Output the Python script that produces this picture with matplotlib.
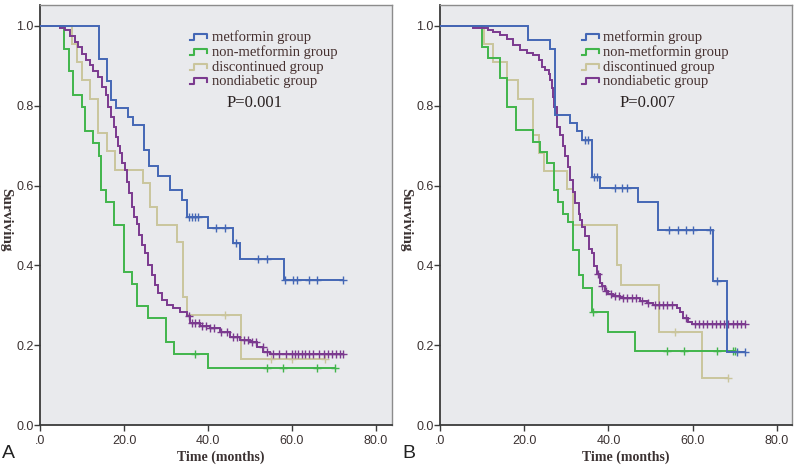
import numpy as np
import matplotlib
matplotlib.use("Agg")
import matplotlib.pyplot as plt
from matplotlib.lines import Line2D

# ---------------- data ----------------
group_names = ["metformin group", "non-metformin group", "discontinued group", "nondiabetic group"]
x_ticks = [0, 20, 40, 60, 80]
x_ticklabels = [".0", "20.0", "40.0", "60.0", "80.0"]
y_ticks = [0.0, 0.2, 0.4, 0.6, 0.8, 1.0]
y_ticklabels = ["0.0", "0.2", "0.4", "0.6", "0.8", "1.0"]
p_values = ["P=0.001", "P=0.007"]
panel_letters = ["A", "B"]

# Panel A
a_met_t = [14.0, 16.0, 16.8, 18.1, 21.0, 22.1, 24.8, 25.9, 28.2, 30.9, 33.7, 34.9, 40.0, 46.0, 47.7, 58.0]
a_met_s = [0.917, 0.861, 0.815, 0.794, 0.773, 0.752, 0.689, 0.650, 0.623, 0.589, 0.564, 0.521, 0.493, 0.457, 0.416, 0.363]
a_met_c = [35.5, 36.2, 37.0, 37.6, 42.0, 44.0, 46.6, 52.0, 54.0, 58.4, 60.2, 61.2, 64.0, 66.0, 72.2]
a_met_end = 72.2

a_non_t = [5.7, 6.9, 7.9, 9.9, 10.7, 12.6, 14.0, 14.6, 15.8, 17.7, 20.0, 21.8, 23.0, 25.8, 29.9, 31.8, 39.9]
a_non_s = [0.943, 0.886, 0.827, 0.796, 0.738, 0.706, 0.674, 0.589, 0.560, 0.501, 0.384, 0.354, 0.297, 0.267, 0.208, 0.178, 0.142]
a_non_c = [36.9, 54.0, 57.9, 66.0, 70.2]
a_non_end = 70.2

a_dis_t = [7.7, 8.7, 9.9, 11.9, 13.9, 15.9, 17.9, 24.6, 26.2, 27.8, 32.6, 34.0, 34.9, 47.8]
a_dis_s = [0.955, 0.910, 0.865, 0.818, 0.733, 0.686, 0.639, 0.606, 0.547, 0.501, 0.459, 0.322, 0.276, 0.165]
a_dis_c = [44.0, 55.0, 60.0, 67.9]
a_dis_end = 67.9

a_nd_t = [4.8, 6.0, 7.1, 8.3, 9.1, 9.9, 11.0, 11.9, 12.7, 13.9, 14.7, 15.7, 16.3, 16.8, 17.5, 18.0,
          18.5, 19.0, 19.5, 20.2, 20.8, 21.3, 21.8, 22.4, 23.0, 23.6, 24.4, 25.0, 25.8, 26.6, 27.4,
          28.2, 29.0, 30.2, 31.7, 33.3, 34.9, 35.7, 38.1, 40.5, 42.9, 45.2, 47.6, 50.0, 51.6, 53.2, 54.8]
a_nd_s = [0.995, 0.990, 0.975, 0.961, 0.948, 0.931, 0.915, 0.902, 0.886, 0.873, 0.848, 0.827, 0.798,
          0.773, 0.748, 0.723, 0.698, 0.681, 0.656, 0.639, 0.610, 0.581, 0.547, 0.522, 0.505, 0.476,
          0.451, 0.430, 0.401, 0.376, 0.351, 0.330, 0.313, 0.301, 0.292, 0.282, 0.272, 0.255, 0.249,
          0.242, 0.232, 0.221, 0.213, 0.209, 0.196, 0.184, 0.177]
a_nd_c = [35.5, 36.3, 37.0, 37.8, 38.5, 39.5, 40.5, 41.5, 43.0, 44.5, 46.0, 47.0, 48.5, 49.5, 50.5,
          51.5, 53.0, 54.0, 55.5, 57.0, 58.5, 60.0, 60.8, 61.5, 62.3, 63.0, 64.0, 65.0, 66.5, 67.5,
          68.5, 69.5, 70.5, 71.5, 72.2]
a_nd_end = 72.2

# Panel B
b_met_t = [21.0, 26.2, 27.2, 30.8, 32.5, 33.8, 36.1, 37.9, 47.1, 51.7, 64.8, 68.1]
b_met_s = [0.964, 0.942, 0.777, 0.757, 0.736, 0.714, 0.622, 0.593, 0.560, 0.489, 0.361, 0.182]
b_met_c = [34.4, 35.2, 36.6, 37.4, 41.5, 43.2, 44.5, 54.5, 56.5, 58.5, 60.0, 64.2, 65.8, 70.5, 72.5]
b_met_end = 72.5

b_non_t = [9.9, 11.5, 14.3, 16.0, 18.1, 22.0, 23.8, 25.4, 27.1, 28.1, 29.3, 30.3, 31.7, 32.9, 33.9, 36.1, 40.0, 46.2]
b_non_s = [0.948, 0.919, 0.869, 0.798, 0.739, 0.710, 0.685, 0.656, 0.589, 0.560, 0.530, 0.509, 0.438, 0.375, 0.344, 0.282, 0.232, 0.186]
b_non_c = [36.3, 53.9, 58.0, 65.9, 69.7, 70.1]
b_non_end = 70.1

b_dis_t = [10.5, 12.5, 16.0, 18.6, 22.0, 23.6, 24.7, 30.1, 31.5, 42.0, 42.9, 51.9, 62.2]
b_dis_s = [0.955, 0.909, 0.864, 0.818, 0.727, 0.682, 0.636, 0.591, 0.500, 0.400, 0.350, 0.233, 0.117]
b_dis_c = [55.9, 68.5]
b_dis_end = 68.5

b_nd_t = [7.9, 11.5, 12.7, 14.3, 15.8, 17.4, 19.0, 20.6, 22.2, 23.4, 24.2, 25.0, 25.8, 26.1, 26.5, 26.9,
          27.1, 27.7, 28.5, 29.3, 29.7, 30.5, 30.9, 31.7, 32.1, 32.9, 33.3, 33.7, 34.5, 35.3, 36.1, 36.6,
          37.2, 37.9, 38.4, 39.2, 40.0, 41.2, 42.8, 47.5, 49.1, 50.7, 56.3, 57.0, 57.8, 59.0, 59.8]
b_nd_s = [0.995, 0.990, 0.985, 0.977, 0.967, 0.952, 0.940, 0.933, 0.927, 0.915, 0.898, 0.890, 0.880,
          0.865, 0.844, 0.823, 0.798, 0.748, 0.727, 0.698, 0.673, 0.647, 0.614, 0.585, 0.556, 0.530,
          0.514, 0.497, 0.473, 0.440, 0.432, 0.398, 0.378, 0.357, 0.348, 0.336, 0.328, 0.323, 0.319,
          0.311, 0.307, 0.300, 0.294, 0.282, 0.269, 0.258, 0.253]
b_nd_c = [37.5, 38.5, 39.5, 40.5, 41.5, 42.5, 43.5, 44.5, 45.5, 46.5, 48.0, 49.5, 51.0, 52.0, 53.0,
          54.0, 55.0, 58.5, 60.5, 61.5, 62.5, 63.5, 64.5, 65.5, 66.5, 67.5, 68.5, 69.5, 70.5, 71.5, 72.5]
b_nd_end = 72.5

# ---------------- style ----------------
colors = ["#4467b5", "#41b54b", "#cac59c", "#7b3a8f"]
bg = "#e9eaed"
txt_dark = "#3b3232"
legend_txt = "#45302f"

W, H = 800, 469
fig = plt.figure(figsize=(8.0, 4.69), dpi=100)
fig.patch.set_facecolor("white")

tick_font = ["Liberation Sans Narrow", "Liberation Sans", "DejaVu Sans"]
serif_font = ["Liberation Serif", "DejaVu Serif"]


def draw_curve(ax, t, s, cens, end, color, z):
    tt = [0.0] + list(t) + [end]
    ss = [1.0] + list(s) + [s[-1]]
    ax.step(tt, ss, where="post", color=color, lw=1.4, zorder=z, solid_joinstyle="miter")
    st = np.array([0.0] + list(t))
    sv = np.array([1.0] + list(s))
    c = np.array(cens)
    idx = np.searchsorted(st, c, side="right") - 1
    ax.plot(c, sv[idx], linestyle="none", marker="+", ms=5.5, mew=1.0, color=color, zorder=z)


panels = [
    dict(left=40, right=392, xmax=83.8,
         curves=[(a_dis_t, a_dis_s, a_dis_c, a_dis_end, colors[2]),
                 (a_non_t, a_non_s, a_non_c, a_non_end, colors[1]),
                 (a_nd_t, a_nd_s, a_nd_c, a_nd_end, colors[3]),
                 (a_met_t, a_met_s, a_met_c, a_met_end, colors[0])],
         leg_icon_x=190, leg_txt_x=212, p_x=255, ylab_x=6, xlab_x=221, letter_x=8),
    dict(left=440, right=792, xmax=83.6,
         curves=[(b_dis_t, b_dis_s, b_dis_c, b_dis_end, colors[2]),
                 (b_non_t, b_non_s, b_non_c, b_non_end, colors[1]),
                 (b_nd_t, b_nd_s, b_nd_c, b_nd_end, colors[3]),
                 (b_met_t, b_met_s, b_met_c, b_met_end, colors[0])],
         leg_icon_x=582, leg_txt_x=603, p_x=648, ylab_x=406, xlab_x=626, letter_x=409),
]

top_px, bot_px = 5, 425
y1_px = 26  # pixel row of S=1.0
for i, p in enumerate(panels):
    l, r = p["left"], p["right"]
    ax = fig.add_axes([l / W, 1 - bot_px / H, (r - l) / W, (bot_px - top_px) / H])
    ax.set_facecolor(bg)
    ax.set_ylim(0, (bot_px - top_px) / (bot_px - y1_px))
    ax.set_xlim(0, p["xmax"])
    for z, (t, s, c, e, col) in enumerate(p["curves"]):
        draw_curve(ax, t, s, c, e, col, 3 + z)

    ax.set_xticks(x_ticks)
    ax.set_xticklabels(x_ticklabels)
    ax.set_yticks(y_ticks)
    ax.set_yticklabels(y_ticklabels)
    ax.tick_params(axis="both", direction="out", length=4, width=1.0, colors="#3a3a3a",
                   labelsize=9, labelcolor=txt_dark)
    ax.tick_params(axis="y", pad=0.5)
    ax.tick_params(axis="x", pad=3)
    for lab in ax.get_xticklabels() + ax.get_yticklabels():
        lab.set_family(tick_font)
    for side in ["left", "bottom"]:
        ax.spines[side].set_color("#3a3a3a")
        ax.spines[side].set_linewidth(1.3)
    for side in ["top", "right"]:
        ax.spines[side].set_color("#8c8c8c")
        ax.spines[side].set_linewidth(1.0)

    # legend (manual, SPSS style)
    rows = [37, 52, 67, 81]
    for k, name in enumerate(group_names):
        yy = rows[k]
        x0 = p["leg_icon_x"]
        xs = [x0, x0 + 4, x0 + 4, x0 + 17, x0 + 17]
        ys = [yy + 3, yy + 3, yy - 3, yy - 3, yy + 1]
        fx = [v / W for v in xs]
        fy = [1 - v / H for v in ys]
        fig.add_artist(Line2D(fx, fy, color=colors[k], lw=1.5, transform=fig.transFigure))
        fig.text(p["leg_txt_x"] / W, 1 - yy / H, name, family=serif_font, fontsize=10.5,
                 color=legend_txt, ha="left", va="center")
    fig.text(p["p_x"] / W, 1 - 103 / H, p_values[i], family=serif_font, fontsize=12,
             color="#2a2222", ha="center", va="center")

    fig.text(p["ylab_x"] / W, 1 - 220 / H, "Surviving", family=serif_font, fontsize=11,
             fontweight="bold", color=txt_dark, rotation=270, ha="center", va="center")
    fig.text(p["xlab_x"] / W, 1 - 457 / H, "Time (months)", family=serif_font, fontsize=10,
             fontweight="bold", color=txt_dark, ha="center", va="center")
    fig.text(p["letter_x"] / W, 1 - 453 / H, panel_letters[i], family=["Liberation Sans", "DejaVu Sans"],
             fontsize=14, color="#222222", ha="center", va="center")

fig.savefig("out.png", dpi=100, facecolor="white")
